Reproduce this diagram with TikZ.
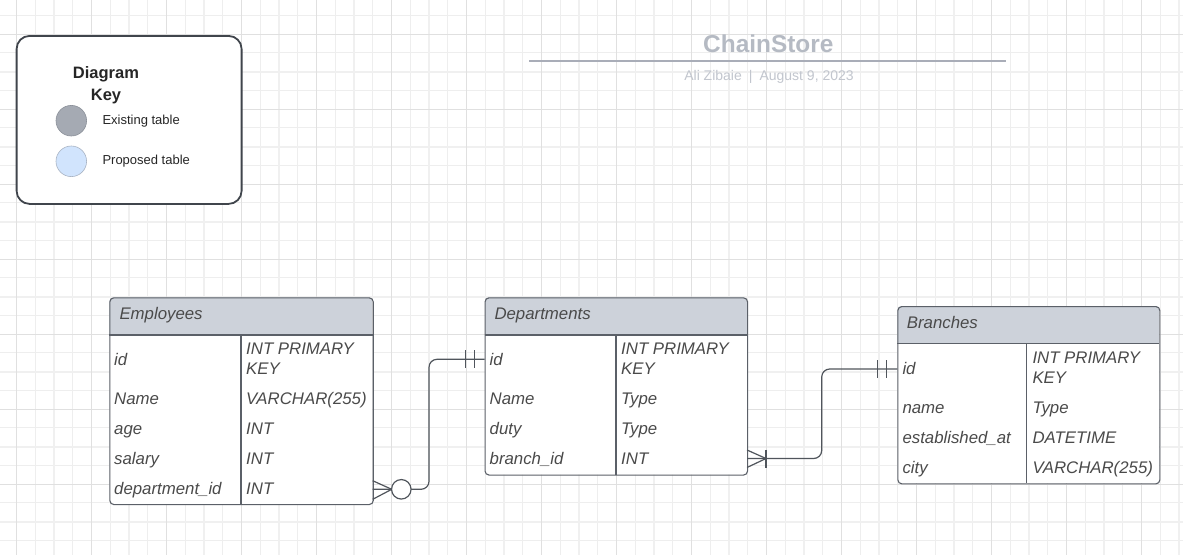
\documentclass[tikz,border=0pt]{standalone}
\usepackage{fontspec}
\setmainfont{Liberation Sans}
\definecolor{gminor}{HTML}{EEEEEE}
\definecolor{ghalf}{HTML}{F0F0F0}
\definecolor{gmajor}{HTML}{E0E0E0}
\definecolor{tstroke}{HTML}{5B6068}
\definecolor{thead}{HTML}{CDD2DA}
\definecolor{ttxt}{HTML}{4A4A4A}
\definecolor{cline}{HTML}{50555C}
\definecolor{keystroke}{HTML}{40454C}
\definecolor{existfill}{HTML}{A5AAB3}
\definecolor{existstroke}{HTML}{8C919A}
\definecolor{propfill}{HTML}{D1E4FD}
\definecolor{propstroke}{HTML}{A9B4C4}
\definecolor{titlec}{HTML}{B5BAC3}
\definecolor{subc}{HTML}{C2C6CE}
\definecolor{rulec}{HTML}{A9ADB8}
\begin{document}
\begin{tikzpicture}[x=1pt,y=-1pt,
  tablebox/.style={draw=tstroke, line width=1.1pt, rounded corners=4pt, anchor=north west, inner sep=0pt},
  tline/.style={draw=tstroke, line width=1.1pt},
  ttext/.style={anchor=base west, inner sep=0pt, font=\fontsize{16.8}{18}\selectfont\itshape, text=ttxt},
  htext/.style={anchor=base west, inner sep=0pt, font=\fontsize{16.8}{18}\selectfont\itshape, text=ttxt},
  conn/.style={draw=cline, line width=1.2pt},
  keytext/.style={anchor=base west, inner sep=0pt, font=\fontsize{13}{15}\selectfont, text=black!85},
  keytitle/.style={anchor=base, inner sep=0pt, font=\fontsize{16.5}{18}\selectfont\bfseries, text=black!85}]
\useasboundingbox (0,0) rectangle (1183,555);
\fill[white] (0,0) rectangle (1183,555);
% grid
\foreach \i in {0,...,63} {
  \draw[gminor, line width=1pt] ({16.7+18.75*\i},0) -- ({16.7+18.75*\i},555);
}
\foreach \i in {0,...,29} {
  \draw[gminor, line width=1pt] (0,{15.25+18.75*\i}) -- (1183,{15.25+18.75*\i});
}
\foreach \i in {0,...,15} {
  \draw[ghalf, line width=2pt] ({54.2+75*\i},0) -- ({54.2+75*\i},555);
}
\foreach \i in {-1,...,7} {
  \draw[ghalf, line width=2pt] (0,{71.5+75*\i}) -- (1183,{71.5+75*\i});
}
\foreach \i in {0,...,15} {
  \draw[gmajor, line width=1pt] ({16.7+75*\i},0) -- ({16.7+75*\i},555);
}
\foreach \i in {0,...,7} {
  \draw[gmajor, line width=1pt] (0,{34+75*\i}) -- (1183,{34+75*\i});
}

% key
\node[draw=keystroke, line width=1.8pt, rounded corners=13pt, fill=white, minimum width=225pt, minimum height=168pt, anchor=north west, inner sep=0pt] (key) at (15.7,35) {};
\node[keytitle] (keyt1) at (106,78) {Diagram};
\node[keytitle] (keyt2) at (106,100.5) {Key};
\node[circle, draw=existstroke, fill=existfill, line width=0.6pt, minimum size=30.6pt, inner sep=0pt] (cexist) at (71.3,120.7) {};
\node[circle, draw=propstroke, fill=propfill, line width=0.6pt, minimum size=30.6pt, inner sep=0pt] (cprop) at (71.3,161.3) {};
\node[keytext] (texist) at (102.3,124) {Existing table};
\node[keytext] (tprop) at (102.3,164.5) {Proposed table};

% title
\node[anchor=base, inner sep=0pt, font=\fontsize{24.4}{26}\selectfont\bfseries, text=titlec] (title) at (768.3,52) {ChainStore};
\coordinate (ruleL) at (529,60.7);
\coordinate (ruleR) at (1006,60.7);
\draw[rulec, line width=2.3pt] (ruleL) -- (ruleR);
\node[anchor=base, inner sep=0pt, font=\fontsize{14}{16}\selectfont, text=subc] (sub) at (769,80) {Ali Zibaie\hspace{7pt}|\hspace{7pt}August 9, 2023};

% ---------- Employees ----------
\begin{scope}
\clip[rounded corners=4pt] (109.3,297.3) rectangle (372.7,504);
\fill[thead] (109.3,297.3) rectangle (372.7,335);
\fill[white] (109.3,335) rectangle (372.7,504);
\end{scope}
\node[tablebox, minimum width=263.4pt, minimum height=206.7pt] (emp) at (109.3,297.3) {};
\draw[tline] (109.3,335) -- (372.7,335);
\draw[tline] (241,335) -- (241,504);
\node[htext] (empH) at (119.3,319) {Employees};
\node[ttext] (e1n) at (114,365) {id};
\node[ttext] (e1t) at (246,354.5) {INT PRIMARY};
\node[ttext] (e1k) at (246,374.5) {KEY};
\node[ttext] (e2n) at (114,404) {Name};
\node[ttext] (e2t) at (246,404) {VARCHAR(255)};
\node[ttext] (e3n) at (114,434) {age};
\node[ttext] (e3t) at (246,434) {INT};
\node[ttext] (e4n) at (114,464) {salary};
\node[ttext] (e4t) at (246,464) {INT};
\node[ttext] (e5n) at (114,494) {department\_id};
\node[ttext] (e5t) at (246,494) {INT};

% ---------- Departments ----------
\begin{scope}
\clip[rounded corners=4pt] (484.5,297.3) rectangle (747,474.5);
\fill[thead] (484.5,297.3) rectangle (747,335);
\fill[white] (484.5,335) rectangle (747,474.5);
\end{scope}
\node[tablebox, minimum width=262.5pt, minimum height=177.2pt] (dep) at (484.5,297.3) {};
\draw[tline] (484.5,335) -- (747,335);
\draw[tline] (616,335) -- (616,474.5);
\node[htext] (depH) at (494.3,319) {Departments};
\node[ttext] (d1n) at (489.5,365) {id};
\node[ttext] (d1t) at (621,354.5) {INT PRIMARY};
\node[ttext] (d1k) at (621,374.5) {KEY};
\node[ttext] (d2n) at (489.5,404) {Name};
\node[ttext] (d2t) at (621,404) {Type};
\node[ttext] (d3n) at (489.5,434) {duty};
\node[ttext] (d3t) at (621,434) {Type};
\node[ttext] (d4n) at (489.5,464) {branch\_id};
\node[ttext] (d4t) at (621,464) {INT};

% ---------- Branches ----------
\begin{scope}
\clip[rounded corners=4pt] (897.3,306) rectangle (1159.3,483.3);
\fill[thead] (897.3,306) rectangle (1159.3,343.5);
\fill[white] (897.3,343.5) rectangle (1159.3,483.3);
\end{scope}
\node[tablebox, minimum width=262pt, minimum height=177.3pt] (br) at (897.3,306) {};
\draw[tline] (897.3,343.5) -- (1159.3,343.5);
\draw[tline] (1026.7,343.5) -- (1026.7,483.3);
\node[htext] (brH) at (906.7,328) {Branches};
\node[ttext] (b1n) at (902.3,374) {id};
\node[ttext] (b1t) at (1032.3,363.5) {INT PRIMARY};
\node[ttext] (b1k) at (1032.3,383.5) {KEY};
\node[ttext] (b2n) at (902.3,413) {name};
\node[ttext] (b2t) at (1032.3,413) {Type};
\node[ttext] (b3n) at (902.3,443) {established\_at};
\node[ttext] (b3t) at (1032.3,443) {DATETIME};
\node[ttext] (b4n) at (902.3,473) {city};
\node[ttext] (b4t) at (1032.3,473) {VARCHAR(255)};

% ---------- connectors ----------
% Employees.department_id  >o----||  Departments.id
\coordinate (ce) at (372.7,489.3);
\coordinate (cd) at (484.5,359.3);
\draw[conn, rounded corners=8pt] (ce) -- (429,489.3) -- (429,359.3) -- (cd);
\draw[conn] (372.7,480.7) -- (391.7,489.3) -- (372.7,499.3);
\node[circle, draw=cline, fill=white, line width=1.2pt, minimum size=19.5pt, inner sep=0pt] (zc) at (401.3,489.3) {};
\draw[conn] (465.7,350.3) -- (465.7,368.3);
\draw[conn] (474.3,350.3) -- (474.3,368.3);

% Departments.branch_id  >|----||  Branches.id
\coordinate (cb1) at (747,458.5);
\coordinate (cb2) at (897.3,369);
\draw[conn, rounded corners=8pt] (cb1) -- (821.7,458.5) -- (821.7,369) -- (cb2);
\draw[conn] (747,450) -- (766,458.5) -- (747,467.5);
\draw[conn] (766,449.5) -- (766,467.5);
\draw[conn] (877.7,360) -- (877.7,378);
\draw[conn] (886.7,360) -- (886.7,378);
\end{tikzpicture}
\end{document}
